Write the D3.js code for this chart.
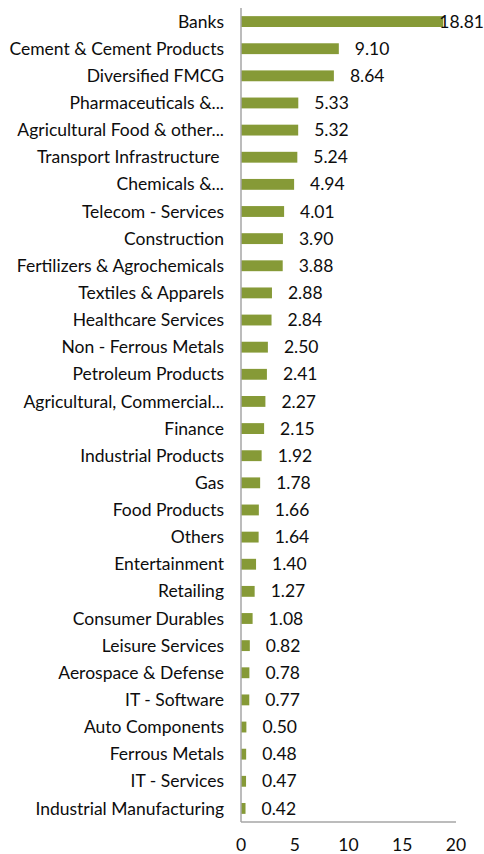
<!DOCTYPE html>
<html>
<head>
<meta charset="utf-8">
<script src="https://cdn.jsdelivr.net/npm/d3@7"></script>
<style>
  body { margin: 0; background: #fff; }
  text { font-family: Lato, "Open Sans", sans-serif; fill: #0d0d0d; white-space: pre; }
</style>
</head>
<body>
<svg id="chart" width="484" height="854"></svg>
<script>
const sectors = [
  'Banks', 'Cement & Cement Products', 'Diversified FMCG', 'Pharmaceuticals &...',
  'Agricultural Food & other...', 'Transport Infrastructure ', 'Chemicals &...',
  'Telecom - Services', 'Construction', 'Fertilizers & Agrochemicals',
  'Textiles & Apparels', 'Healthcare Services', 'Non - Ferrous Metals',
  'Petroleum Products', 'Agricultural, Commercial...', 'Finance',
  'Industrial Products', 'Gas', 'Food Products', 'Others', 'Entertainment',
  'Retailing', 'Consumer Durables', 'Leisure Services', 'Aerospace & Defense',
  'IT - Software', 'Auto Components', 'Ferrous Metals', 'IT - Services',
  'Industrial Manufacturing'
];
const weights = [
  18.81, 9.10, 8.64, 5.33, 5.32, 5.24, 4.94, 4.01, 3.90, 3.88,
  2.88, 2.84, 2.50, 2.41, 2.27, 2.15, 1.92, 1.78, 1.66, 1.64,
  1.40, 1.27, 1.08, 0.82, 0.78, 0.77, 0.50, 0.48, 0.47, 0.42
];
const xTicks = [0, 5, 10, 15, 20];

const svg = d3.select('#chart');
const plotL = 241, plotR = 456, plotT = 8, plotB = 822;
const fontSize = 17.5;

const x = d3.scaleLinear().domain([0, 20]).range([plotL, plotR]);
const y = d3.scaleBand().domain(sectors).range([plotT, plotB]).paddingInner(0.6).paddingOuter(0.3);

const rows = svg.selectAll('g.row')
  .data(sectors.map((s, i) => ({ name: s, value: weights[i] })))
  .join('g')
  .attr('class', 'row');

rows.append('rect')
  .attr('x', x(0))
  .attr('y', d => y(d.name))
  .attr('width', d => x(d.value) - x(0))
  .attr('height', y.bandwidth())
  .attr('fill', '#869a37');

rows.append('text')
  .attr('x', 224)
  .attr('y', d => y(d.name) + y.bandwidth() / 2)
  .attr('dy', '0.35em')
  .attr('text-anchor', 'end')
  .attr('font-size', fontSize)
  .text(d => d.name);

rows.append('text')
  .attr('class', 'val')
  .attr('x', d => x(d.value) + 16)
  .attr('y', d => y(d.name) + y.bandwidth() / 2)
  .attr('dy', '0.35em')
  .attr('font-size', fontSize)
  .text(d => d.value.toFixed(2))
  .each(function() {
    // keep the label inside the page, like the clipped "18.81"
    const w = this.getComputedTextLength();
    const xs = +d3.select(this).attr('x');
    if (xs + w > 484) d3.select(this).attr('x', 484 - w);
  });

// axis lines
svg.append('line')
  .attr('x1', plotL).attr('x2', plotL)
  .attr('y1', plotT).attr('y2', plotB)
  .attr('stroke', '#a6a6a6').attr('stroke-width', 1.5);
svg.append('line')
  .attr('x1', plotL).attr('x2', plotR)
  .attr('y1', plotB).attr('y2', plotB)
  .attr('stroke', '#a6a6a6').attr('stroke-width', 1.5);

svg.selectAll('text.tick')
  .data(xTicks)
  .join('text')
  .attr('class', 'tick')
  .attr('x', d => x(d))
  .attr('y', 845)
  .attr('dy', '0.35em')
  .attr('text-anchor', 'middle')
  .attr('font-size', fontSize)
  .text(d => d);
</script>
</body>
</html>
